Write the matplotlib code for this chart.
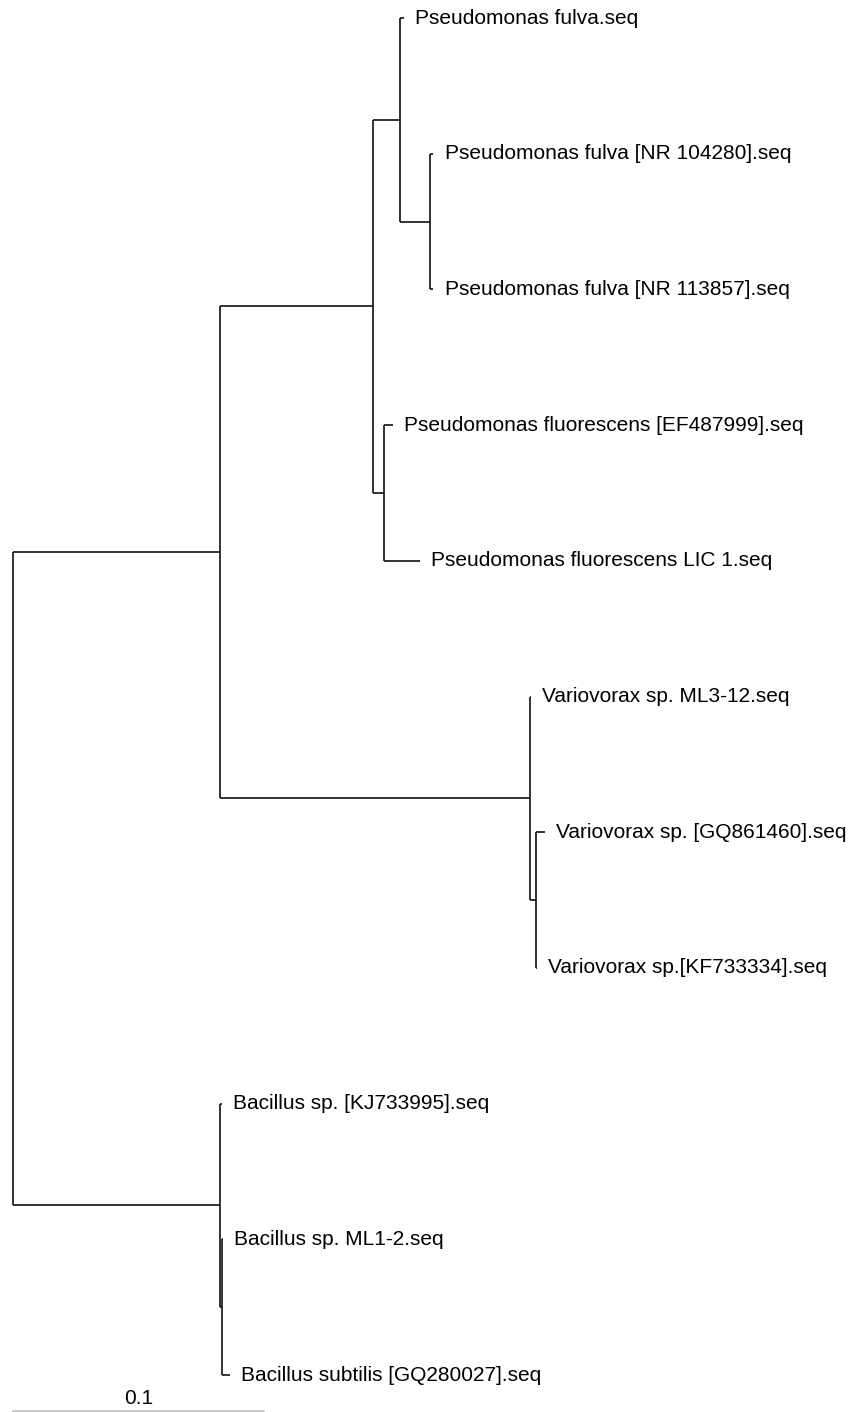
import matplotlib
matplotlib.use("Agg")
import matplotlib.pyplot as plt

plt.rcParams['font.family'] = ['Liberation Sans', 'DejaVu Sans']

# internal nodes: name, parent, branch length
node_names = ["root", "A", "P", "P1", "P1a", "P2", "V", "V2", "B", "B2"]
node_parent = [None, "root", "A", "P", "P1", "P", "A", "V", "root", "B"]
node_branch = [0.0, 0.0825, 0.061, 0.0108, 0.012, 0.0044, 0.1235, 0.0024, 0.0825, 0.0008]

# tips, top to bottom
tip_labels = [
    "Pseudomonas fulva.seq",
    "Pseudomonas fulva [NR 104280].seq",
    "Pseudomonas fulva [NR 113857].seq",
    "Pseudomonas fluorescens [EF487999].seq",
    "Pseudomonas fluorescens LIC 1.seq",
    "Variovorax sp. ML3-12.seq",
    "Variovorax sp. [GQ861460].seq",
    "Variovorax sp.[KF733334].seq",
    "Bacillus sp. [KJ733995].seq",
    "Bacillus sp. ML1-2.seq",
    "Bacillus subtilis [GQ280027].seq",
]
tip_parent = ["P1", "P1a", "P1a", "P2", "P2", "V", "V2", "V2", "B", "B2", "B2"]
tip_branch = [0.0016, 0.0012, 0.0012, 0.0036, 0.0143, 0.0004, 0.0036, 0.0004, 0.0008, 0.0004, 0.0032]

scale_len = 0.1
scale_label = "0.1"

# depths of internal nodes
depth = {}
for name, par, bl in zip(node_names, node_parent, node_branch):
    depth[name] = bl if par is None else depth[par] + bl

# y positions: tips evenly spaced, internal nodes at middle of children
ypos = {}
children = {n: [] for n in node_names}
for i, (lab, par) in enumerate(zip(tip_labels, tip_parent)):
    ypos[lab] = i
    children[par].append(lab)
for name, par in zip(node_names, node_parent):
    if par is not None:
        children[par].append(name)


def node_y(n):
    if n in ypos:
        return ypos[n]
    ys = [node_y(c) for c in children[n]]
    ypos[n] = (min(ys) + max(ys)) / 2
    return ypos[n]


node_y("root")

fig = plt.figure(figsize=(8.59, 14.12), dpi=100)
ax = fig.add_axes([0, 0, 1, 1])
lw = 1.2
col = "#111111"

# horizontal branches of internal nodes
for name, par in zip(node_names, node_parent):
    if par is None:
        continue
    ax.plot([depth[par], depth[name]], [ypos[name], ypos[name]], color=col, lw=lw, solid_capstyle='butt')

# vertical connectors
for name in node_names:
    ys = [ypos[c] for c in children[name]]
    ax.plot([depth[name], depth[name]], [min(ys), max(ys)], color=col, lw=lw, solid_capstyle='butt')

# tips
for lab, par, bl in zip(tip_labels, tip_parent, tip_branch):
    x1 = depth[par] + bl
    y = ypos[lab]
    ax.plot([depth[par], x1], [y, y], color=col, lw=lw, solid_capstyle='butt')
    ax.annotate(lab, xy=(x1, y), xytext=(8, 0), textcoords='offset points',
                ha='left', va='center', fontsize=15, color='black')

# scale bar
px = 1 / 2510.0
ax.plot([0, scale_len], [10.265, 10.265], color='#c0c0c0', lw=1.2, clip_on=False)
ax.text(scale_len / 2, 10.17, scale_label, ha='center', va='center', fontsize=15, color='black')

ax.set_xlim(-13 * px, (859 - 13) * px)
ax.set_ylim((1412 - 18) / 135.7, -18 / 135.7)
ax.axis('off')

fig.savefig("out.png", dpi=100)
